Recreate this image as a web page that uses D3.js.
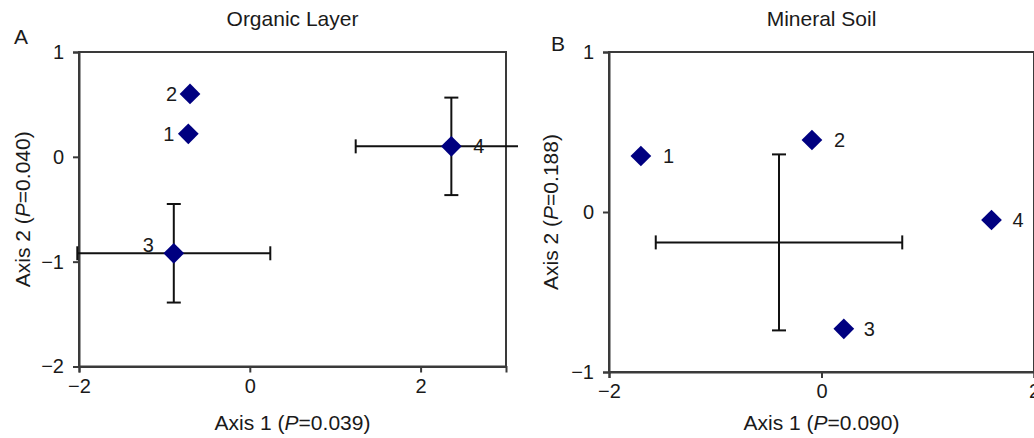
<!DOCTYPE html>
<html>
<head>
<meta charset="utf-8">
<script src="https://cdn.jsdelivr.net/npm/d3@7"></script>
<style>
  body { margin: 0; background: #fff; }
  svg text { font-family: "Liberation Sans", Arial, sans-serif; fill: #1a1a1a; }
</style>
</head>
<body>
<svg id="chart"></svg>
<script>
// panel A - organic layer
var organicLabels = ["1", "2", "3", "4"];
var organicX = [-0.72, -0.70, -0.89, 2.36];
var organicY = [0.22, 0.60, -0.92, 0.10];
var organicXErr = [0, 0, 1.13, 1.12];
var organicYErr = [0, 0, 0.47, 0.465];

// panel B - mineral soil
var mineralLabels = ["1", "2", "3", "4"];
var mineralX = [-1.70, -0.09, 0.21, 1.60];
var mineralY = [0.35, 0.45, -0.73, -0.05];
// error cross without marker
var mineralMeanX = [-0.40];
var mineralMeanY = [-0.19];
var mineralMeanXErr = [1.16];
var mineralMeanYErr = [0.55];

var organicXTicks = [-2, 0, 2];
var organicYTicks = [-2, -1, 0, 1];
var mineralXTicks = [-2, 0, 2];
var mineralYTicks = [-1, 0, 1];

var W = 1034, H = 438;
var svg = d3.select("#chart").attr("width", W).attr("height", H);

var navy = "#000080";
var diamond = d3.symbol().type(d3.symbolSquare).size(215);

function toPoints(labels, xs, ys, xe, ye) {
  return labels.map(function (l, i) {
    return { label: l, x: xs[i], y: ys[i], xe: xe ? xe[i] : 0, ye: ye ? ye[i] : 0 };
  });
}

function drawPanel(opt) {
  var x = d3.scaleLinear().domain(opt.xDomain).range(opt.xRange);
  var y = d3.scaleLinear().domain(opt.yDomain).range(opt.yRange);
  var x0 = opt.xRange[0], x1 = opt.xRange[1], y0 = opt.yRange[1], y1 = opt.yRange[0];

  var g = svg.append("g");
  if (opt.clipRight) {
    svg.append("clipPath").attr("id", opt.id + "-clip")
      .append("rect").attr("x", 0).attr("y", 0).attr("width", opt.clipRight).attr("height", H);
    g.attr("clip-path", "url(#" + opt.id + "-clip)");
  }

  // frame (top/right)
  g.append("rect")
    .attr("x", x0).attr("y", y0)
    .attr("width", x1 - x0).attr("height", y1 - y0)
    .attr("fill", "none").attr("stroke", "#3a3a3a").attr("stroke-width", 2);

  // axes
  var xa = g.append("g")
    .attr("transform", "translate(0," + y1 + ")")
    .call(d3.axisBottom(x).tickValues(opt.xTicks).tickSize(6).tickPadding(6).tickFormat(d3.format("d")));
  var ya = g.append("g")
    .attr("transform", "translate(" + x0 + ",0)")
    .call(d3.axisLeft(y).tickValues(opt.yTicks).tickSize(6).tickPadding(9).tickFormat(d3.format("d")));
  [xa, ya].forEach(function (a) {
    a.select(".domain").attr("stroke", "#3a3a3a").attr("stroke-width", 2);
    a.selectAll(".tick line").attr("stroke", "#3a3a3a").attr("stroke-width", 2);
    a.selectAll(".tick text").style("font-size", "20px").attr("fill", "#1a1a1a");
  });

  // error bars
  var cap = 7;
  var eb = opt.errors.filter(function (d) { return d.xe > 0 || d.ye > 0; });
  var ebg = g.append("g").attr("stroke", "#111").attr("stroke-width", 2).attr("fill", "none");
  eb.forEach(function (d) {
    var cx = x(d.x), cy = y(d.y);
    var xl = x(d.x - d.xe), xr = x(d.x + d.xe), yt = y(d.y + d.ye), yb = y(d.y - d.ye);
    ebg.append("line").attr("x1", xl).attr("x2", xr).attr("y1", cy).attr("y2", cy);
    ebg.append("line").attr("x1", cx).attr("x2", cx).attr("y1", yt).attr("y2", yb);
    ebg.append("line").attr("x1", xl).attr("x2", xl).attr("y1", cy - cap).attr("y2", cy + cap);
    ebg.append("line").attr("x1", xr).attr("x2", xr).attr("y1", cy - cap).attr("y2", cy + cap);
    ebg.append("line").attr("x1", cx - cap).attr("x2", cx + cap).attr("y1", yt).attr("y2", yt);
    ebg.append("line").attr("x1", cx - cap).attr("x2", cx + cap).attr("y1", yb).attr("y2", yb);
  });

  // markers
  g.append("g").selectAll("path")
    .data(opt.points)
    .join("path")
    .attr("d", diamond)
    .attr("transform", function (d) { return "translate(" + x(d.x) + "," + y(d.y) + ") rotate(45)"; })
    .attr("fill", navy);

  // point labels
  g.append("g").selectAll("text")
    .data(opt.points)
    .join("text")
    .attr("x", function (d, i) { return x(d.x) + opt.labelDx[i]; })
    .attr("y", function (d, i) { return y(d.y) + opt.labelDy[i]; })
    .attr("text-anchor", function (d, i) { return opt.labelDx[i] < 0 ? "end" : "start"; })
    .style("font-size", "20px")
    .text(function (d) { return d.label; });

  // panel title
  svg.append("text")
    .attr("x", (x0 + x1) / 2).attr("y", 26)
    .attr("text-anchor", "middle")
    .style("font-size", "21px")
    .text(opt.title);

  // panel letter
  svg.append("text")
    .attr("x", opt.letterX).attr("y", opt.letterY)
    .style("font-size", "21px")
    .text(opt.letter);

  // axis titles
  var xt = svg.append("text")
    .attr("x", (x0 + x1) / 2).attr("y", 430)
    .attr("text-anchor", "middle")
    .style("font-size", "21px");
  xt.append("tspan").text("Axis 1 (");
  xt.append("tspan").style("font-style", "italic").text("P");
  xt.append("tspan").text("=" + opt.xP + ")");

  var yt = svg.append("text")
    .attr("transform", "translate(" + opt.yTitleX + "," + ((y0 + y1) / 2) + ") rotate(-90)")
    .attr("text-anchor", "middle")
    .style("font-size", "21px");
  yt.append("tspan").text("Axis 2 (");
  yt.append("tspan").style("font-style", "italic").text("P");
  yt.append("tspan").text("=" + opt.yP + ")");
}

drawPanel({
  id: "organic",
  title: "Organic Layer", letter: "A", letterX: 14, letterY: 44,
  xDomain: [-2, 3], xRange: [79, 506],
  yDomain: [-2, 1], yRange: [366.5, 52],
  xTicks: organicXTicks, yTicks: organicYTicks,
  points: toPoints(organicLabels, organicX, organicY),
  errors: toPoints(organicLabels, organicX, organicY, organicXErr, organicYErr),
  labelDx: [-14, -13, -20, 22], labelDy: [7, 7, -1, 7],
  xP: "0.039", yP: "0.040", yTitleX: 30,
  clipRight: 518
});

drawPanel({
  id: "mineral",
  title: "Mineral Soil", letter: "B", letterX: 551, letterY: 51,
  xDomain: [-2, 2], xRange: [609, 1034],
  yDomain: [-1, 1], yRange: [372, 52],
  xTicks: mineralXTicks, yTicks: mineralYTicks,
  points: toPoints(mineralLabels, mineralX, mineralY),
  errors: toPoints(mineralMeanX.map(function () { return ""; }), mineralMeanX, mineralMeanY, mineralMeanXErr, mineralMeanYErr),
  labelDx: [22, 22, 20, 21], labelDy: [7, 7, 7, 7],
  xP: "0.090", yP: "0.188", yTitleX: 558
});
</script>
</body>
</html>
